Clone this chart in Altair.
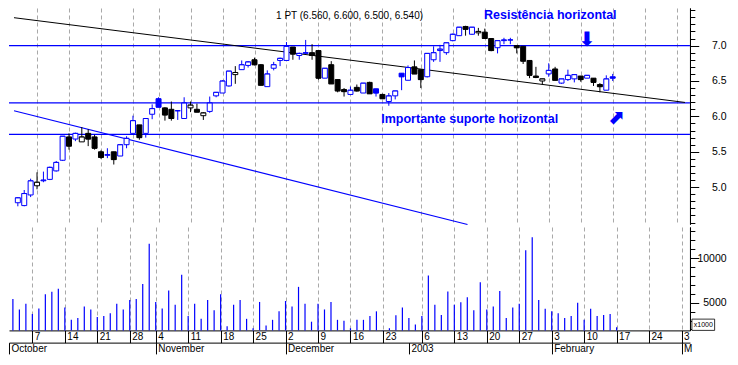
import json
import altair as alt
import pandas as pd

# ---------------- data ----------------
opens = [4.78, 4.74, 4.89, 5.02, 5.09, 5.11, 5.23, 5.38, 5.71, 5.68,
         5.64, 5.76, 5.71, 5.50, 5.45, 5.50, 5.44, 5.60, 5.76, 5.88,
         5.76, 6.03, 6.25, 6.12, 6.10, 6.08, 5.97, 6.12, 6.10, 6.01,
         6.07, 6.29, 6.33, 6.43, 6.59, 6.66, 6.72, 6.80, 6.73, 6.42,
         6.68, 6.79, 6.79, 6.98, 6.86, 6.89, 6.90, 6.93, 6.54, 6.73,
         6.52, 6.38, 6.31, 6.41, 6.33, 6.48, 6.39, 6.31, 6.21, 6.29,
         6.61, 6.51, 6.70, 6.66, 6.56, 6.80, 6.93, 6.90, 7.07, 7.14,
         7.27, 7.16, 7.18, 7.19, 7.10, 6.97, 7.07, 7.08, 7.00, 6.99,
         6.79, 6.57, 6.50, 6.60, 6.67, 6.47, 6.52, 6.53, 6.57, 6.54,
         6.54, 6.45, 6.37, 6.56]
highs = [4.86, 4.96, 5.12, 5.21, 5.22, 5.29, 5.37, 5.72, 5.76, 5.77,
         5.85, 5.82, 5.74, 5.52, 5.55, 5.50, 5.60, 5.72, 6.01, 5.88,
         5.97, 6.17, 6.27, 6.13, 6.21, 6.09, 6.27, 6.21, 6.18, 6.06,
         6.28, 6.34, 6.51, 6.64, 6.71, 6.79, 6.78, 6.83, 6.74, 6.65,
         6.77, 6.83, 7.05, 6.98, 6.90, 7.08, 7.02, 6.94, 6.68, 6.78,
         6.52, 6.40, 6.42, 6.45, 6.47, 6.49, 6.39, 6.32, 6.33, 6.36,
         6.61, 6.72, 6.79, 6.66, 6.89, 6.99, 7.01, 7.04, 7.17, 7.26,
         7.28, 7.26, 7.25, 7.24, 7.10, 7.07, 7.11, 7.11, 7.00, 6.99,
         6.79, 6.70, 6.53, 6.75, 6.70, 6.53, 6.66, 6.59, 6.57, 6.58,
         6.54, 6.47, 6.58, 6.60]
lows = [4.73, 4.73, 4.86, 4.97, 5.07, 5.10, 5.22, 5.37, 5.53, 5.65,
        5.64, 5.58, 5.53, 5.40, 5.41, 5.32, 5.44, 5.55, 5.76, 5.67,
        5.70, 5.96, 6.13, 5.94, 5.94, 5.95, 5.97, 6.06, 6.06, 5.95,
        6.05, 6.27, 6.33, 6.42, 6.46, 6.66, 6.69, 6.72, 6.44, 6.42,
        6.65, 6.71, 6.79, 6.80, 6.80, 6.89, 6.80, 6.52, 6.54, 6.46,
        6.34, 6.28, 6.31, 6.35, 6.33, 6.32, 6.28, 6.25, 6.15, 6.24,
        6.37, 6.51, 6.60, 6.40, 6.55, 6.77, 6.77, 6.87, 7.06, 7.14,
        7.14, 7.15, 7.14, 7.10, 6.92, 6.89, 7.02, 7.02, 6.89, 6.74,
        6.54, 6.54, 6.45, 6.56, 6.51, 6.46, 6.50, 6.48, 6.49, 6.54,
        6.43, 6.34, 6.37, 6.50]
closes = [4.85, 4.91, 5.09, 5.07, 5.10, 5.28, 5.35, 5.72, 5.58, 5.76,
          5.71, 5.68, 5.55, 5.42, 5.46, 5.39, 5.60, 5.69, 5.94, 5.70,
          5.97, 6.11, 6.13, 6.02, 5.97, 6.08, 6.19, 6.16, 6.06, 6.05,
          6.19, 6.34, 6.50, 6.64, 6.62, 6.73, 6.77, 6.73, 6.44, 6.60,
          6.73, 6.82, 6.99, 6.88, 6.89, 6.90, 6.86, 6.54, 6.68, 6.46,
          6.36, 6.35, 6.37, 6.36, 6.47, 6.32, 6.33, 6.25, 6.29, 6.36,
          6.56, 6.69, 6.60, 6.52, 6.89, 6.90, 6.95, 7.04, 7.16, 7.26,
          7.23, 7.26, 7.20, 7.10, 6.93, 7.07, 7.08, 7.08, 6.97, 6.78,
          6.58, 6.55, 6.53, 6.65, 6.51, 6.53, 6.58, 6.59, 6.52, 6.58,
          6.48, 6.42, 6.53, 6.54]
volumes = [5400, 4240, 4870, 3720, 4350, 5930, 6210, 6560, 4450, 3080,
           3290, 4560, 4240, 3400, 3510, 3820, 4870, 4240, 5290, 5400,
           7080, 11610, 5080, 4350, 6350, 4770, 8140, 3510, 4870, 3190,
           5290, 4140, 5930, 2350, 4770, 5290, 3190, 2140, 5080, 2450,
           3080, 4030, 5190, 4560, 6770, 4870, 2870, 4870, 4240, 5080,
           3080, 2980, 2140, 3080, 3080, 3510, 4030, 1900, 2140, 3580,
           4450, 3290, 2560, 3510, 8030, 4770, 3610, 6240, 4770, 5050,
           5610, 4140, 7290, 4240, 4560, 6320, 3290, 4450, 4870, 10870,
           12320, 5290, 4320, 4030, 3820, 3290, 3510, 4980, 3080, 4320,
           3510, 3610, 3720, 2240]

week_idx = [3, 8, 13, 18, 22, 27, 32, 37, 42, 47, 52, 57, 63, 68, 73, 78,
            83, 88, 93, 98, 103]
week_labels = ["7", "14", "21", "28", "4", "11", "18", "25", "2", "9", "16",
               "23", "6", "13", "20", "27", "3", "10", "17", "24", "3"]
month_idx = [-0.6, 22, 42, 61, 83, 103]
month_labels = ["October", "November", "December", "2003", "February", "M"]

levels = [7.0, 6.19, 5.745]
trend_x = [-0.6, 104.3]
trend_y = [7.394, 6.197]
diag_x = [-0.6, 70.3]
diag_y = [6.080, 4.473]

price_major = [5.0, 5.5, 6.0, 6.5, 7.0]
vol_major = [5000, 10000]

# ---------------- layout constants ----------------
SX = 720 / 738
SY = 0.94
W = 698 * SX
HP = 230 * SY
HV = 110 * SY
X0, X1 = -0.6, 104.3
P0, P1 = 4.477, 7.531
V0, V1 = 1895, 13474
BLUE = "#0000ff"
BLACK = "#000000"
GRID = "#a8a8a8"
FONT = "Liberation Sans"

n = len(closes)
prev = [opens[0]] + closes[:-1]
col = [BLUE if c >= p else BLACK for c, p in zip(closes, prev)]
fill = ["#ffffff" if c > o else k for o, c, k in zip(opens, closes, col)]
df = pd.DataFrame({"i": list(range(n)), "open": opens, "high": highs,
                   "low": lows, "close": closes, "vol": volumes,
                   "col": col, "fill": fill})

xsc = alt.Scale(domain=[X0, X1], nice=False, zero=False)
ysc = alt.Scale(domain=[P0, P1], nice=False, zero=False)
vsc = alt.Scale(domain=[V0, V1], nice=False, zero=False)

grid_axis = alt.Axis(values=week_idx, grid=True, gridDash=[4, 3],
                     gridColor=GRID, labels=False, ticks=False,
                     domain=False, title=None)
price_minor_vals = [round(4.5 + 0.1 * k, 1) for k in range(31)]
price_minor_vals = [v for v in price_minor_vals if v not in price_major]
p_minor_axis = alt.Axis(orient="right", values=price_minor_vals,
                        tickSize=5 * SX, labels=False, grid=False,
                        title=None, domainColor=BLACK, tickColor=BLACK)
p_major_axis = alt.Axis(orient="right", values=price_major, format=".1f",
                        tickSize=9 * SX, labelPadding=28 * SX,
                        labelAlign="right", labelFontSize=10.5,
                        grid=False, title=None, labelFlush=False,
                        labelOverlap=False, domainColor=BLACK,
                        tickColor=BLACK)

levels_l = alt.Chart(pd.DataFrame({"level": levels})).mark_rule(
    color=BLUE, strokeWidth=1.2).encode(
    y=alt.Y("level:Q", scale=ysc, axis=p_minor_axis))

trend_l = alt.Chart(pd.DataFrame({"x": trend_x, "y": trend_y})).mark_line(
    color=BLACK, strokeWidth=1).encode(
    x=alt.X("x:Q", scale=xsc, axis=grid_axis),
    y=alt.Y("y:Q", scale=ysc, axis=None))

diag_l = alt.Chart(pd.DataFrame({"x": diag_x, "y": diag_y})).mark_line(
    color=BLUE, strokeWidth=1.2).encode(
    x=alt.X("x:Q", scale=xsc, axis=None),
    y=alt.Y("y:Q", scale=ysc, axis=None))

base = alt.Chart(df)
wick_l = base.mark_rule(strokeWidth=1).encode(
    x=alt.X("i:Q", scale=xsc, axis=None),
    y=alt.Y("low:Q", scale=ysc, axis=p_major_axis),
    y2="high:Q",
    color=alt.Color("col:N", scale=None))
body_l = base.mark_bar(size=5, strokeWidth=1).encode(
    x=alt.X("i:Q", scale=xsc, axis=None),
    y=alt.Y("open:Q", scale=ysc, axis=None),
    y2="close:Q",
    fill=alt.Fill("fill:N", scale=None),
    stroke=alt.Stroke("col:N", scale=None))
close_l = base.mark_tick(orient="horizontal", size=5, thickness=1).encode(
    x=alt.X("i:Q", scale=xsc, axis=None),
    y=alt.Y("close:Q", scale=ysc, axis=None),
    color=alt.Color("col:N", scale=None))

title_l = alt.Chart(pd.DataFrame({"x": [51.86], "y": [7.421],
                                  "t": ["1 PT (6.560, 6.600, 6.500, 6.540)"]})
                    ).mark_text(font=FONT, fontSize=10, color=BLACK).encode(
    x=alt.X("x:Q", scale=xsc, axis=None),
    y=alt.Y("y:Q", scale=ysc, axis=None), text="t:N")
notes_l = alt.Chart(pd.DataFrame({
    "x": [83.25, 70.65], "y": [7.438, 5.957],
    "t": ["Resistência horizontal", "Importante suporte horizontal"]})
).mark_text(font=FONT, fontSize=12.5, fontWeight="bold", color=BLUE).encode(
    x=alt.X("x:Q", scale=xsc, axis=None),
    y=alt.Y("y:Q", scale=ysc, axis=None), text="t:N")
arrows_l = alt.Chart(pd.DataFrame({
    "x": [88.98, 93.49], "y": [7.086, 5.977], "t": ["⬇", "⬈"]})
).mark_text(font="DejaVu Sans", fontSize=20, fontWeight="bold",
            color=BLUE).encode(
    x=alt.X("x:Q", scale=xsc, axis=None),
    y=alt.Y("y:Q", scale=ysc, axis=None), text="t:N")

price = alt.layer(levels_l, trend_l, diag_l, wick_l, body_l, close_l,
                  title_l, notes_l, arrows_l).resolve_axis(
    x="independent", y="independent").properties(width=W, height=HP)

# ---------------- volume panel ----------------
day_expr = "{}[indexof({}, datum.value)]".format(json.dumps(week_labels),
                                                  json.dumps(week_idx))
month_expr = "{}[indexof({}, datum.value)]".format(json.dumps(month_labels),
                                                    json.dumps(month_idx))
day_axis = alt.Axis(orient="bottom", values=week_idx, labelExpr=day_expr,
                    tickSize=13 * SY, labelAlign="left",
                    labelBaseline="middle", labelPadding=6.7 * SY - 13 * SY,
                    labelOffset=2, labelFontSize=10, grid=True,
                    gridDash=[4, 3], gridColor=GRID, title=None,
                    labelFlush=False, labelOverlap=False, labelBound=False,
                    domainColor=BLACK, tickColor=BLACK)
month_axis = alt.Axis(orient="bottom", values=month_idx, labelExpr=month_expr,
                      offset=13 * SY, tickSize=12 * SY, labelAlign="left",
                      labelBaseline="middle", labelPadding=6.5 * SY - 12 * SY,
                      labelOffset=2, labelFontSize=10, grid=False, title=None,
                      labelFlush=False, labelOverlap=False, labelBound=False,
                      domainColor=BLACK, tickColor=BLACK)
vol_minor_vals = [v for v in range(2000, 14000, 1000) if v not in vol_major]
v_minor_axis = alt.Axis(orient="right", values=vol_minor_vals,
                        tickSize=5 * SX, labels=False, grid=False,
                        title=None, domainColor=BLACK, tickColor=BLACK)
v_major_axis = alt.Axis(orient="right", values=vol_major, format="d",
                        tickSize=9 * SX, labelPadding=28 * SX,
                        labelAlign="right", labelFontSize=10.5, grid=False,
                        title=None, labelFlush=False, labelOverlap=False,
                        domainColor=BLACK, tickColor=BLACK)

vol_l = base.mark_rule(color=BLUE, strokeWidth=1.2).encode(
    x=alt.X("i:Q", scale=xsc, axis=day_axis),
    y=alt.Y("vol:Q", scale=vsc, axis=v_major_axis),
    y2=alt.datum(V0))
box_df = pd.DataFrame({"bx": [104.6], "bx2": [108.1], "by": [V0],
                       "by2": [3158], "tx": [106.35], "ty": [2526],
                       "t": ["x1000"]})
box_l = alt.Chart(box_df).mark_rect(fill="#ffffff", stroke=BLACK,
                                    strokeWidth=0.8).encode(
    x=alt.X("bx:Q", scale=xsc, axis=month_axis), x2="bx2:Q",
    y=alt.Y("by:Q", scale=vsc, axis=v_minor_axis), y2="by2:Q")
boxt_l = alt.Chart(box_df).mark_text(font=FONT, fontSize=7,
                                     color=BLACK).encode(
    x=alt.X("tx:Q", scale=xsc, axis=None),
    y=alt.Y("ty:Q", scale=vsc, axis=None), text="t:N")

volume = alt.layer(vol_l, box_l, boxt_l).resolve_axis(
    x="independent", y="independent").properties(width=W, height=HV)

chart = alt.vconcat(price, volume, spacing=0).properties(
    padding=0
).configure_view(stroke=None).configure_axis(
    labelFont=FONT, labelColor=BLACK
)

chart.save("out.html", embed_options={"renderer": "svg", "actions": False})
